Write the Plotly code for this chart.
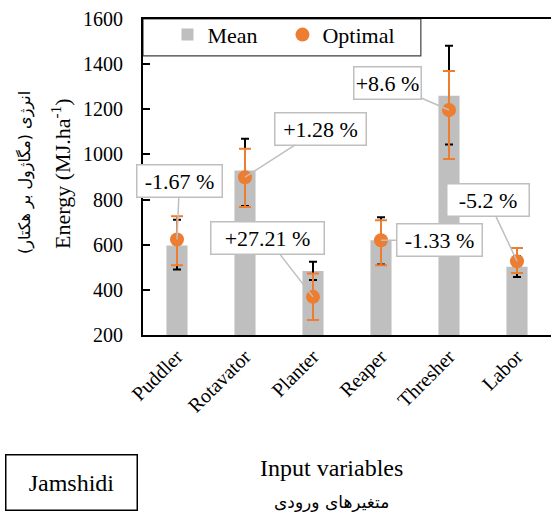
import plotly.graph_objects as go

categories = ["Puddler", "Rotavator", "Planter", "Reaper", "Thresher", "Labor"]
mean_vals = [597, 929, 484, 620, 1260, 502]
mean_err_plus = [114, 140, 40, 102, 221, 48]
mean_err_minus = [107, 158, 40, 108, 216, 45]
opt_vals = [623, 899, 369, 620, 1197, 527]
opt_err_plus = [103, 126, 103, 88, 173, 58]
opt_err_minus = [114, 132, 103, 111, 217, 52]
change_labels = ["-1.67 %", "+1.28 %", "+27.21 %", "-1.33 %", "+8.6 %", "-5.2 %"]
y_ticks = [200, 400, 600, 800, 1000, 1200, 1400, 1600]

SERIF = "Liberation Serif"
FA = "DejaVu Sans"
GRAY = "#BFBFBF"
ORANGE = "#ED7D31"

fig = go.Figure()
fig.add_trace(go.Bar(
    x=categories, y=mean_vals, name="Mean", width=0.31,
    marker=dict(color=GRAY, line=dict(width=0)),
    error_y=dict(type="data", array=mean_err_plus, arrayminus=mean_err_minus,
                 symmetric=False, color="black", thickness=2, width=4),
))
fig.add_trace(go.Scatter(
    x=categories, y=opt_vals, name="Optimal", mode="markers",
    marker=dict(color=ORANGE, size=14),
    error_y=dict(type="data", array=opt_err_plus, arrayminus=opt_err_minus,
                 symmetric=False, color=ORANGE, thickness=2, width=6),
))

# callout layout (pixel offsets and box sizes)
callout_ax = [2.5, 75.5, -45.5, 58.5, -61.5, -29]
callout_ay = [-59, -48.5, -58.5, 0, -26.5, -61.5]
callout_w = [87, 93, 115, 87, 69, 84]

annotations = []
for i, c in enumerate(categories):
    annotations.append(dict(
        x=c, y=opt_vals[i], xref="x", yref="y", text=change_labels[i],
        showarrow=True, ax=callout_ax[i], ay=callout_ay[i],
        arrowhead=0, arrowwidth=1.5, arrowcolor=GRAY,
        bgcolor="white", bordercolor=GRAY, borderwidth=1.5, borderpad=0,
        width=callout_w[i] - 3, height=31,
        font=dict(family=SERIF, size=22, color="black"),
    ))

# axis titles
common = dict(xref="paper", yref="paper", showarrow=False, xanchor="center", yanchor="middle")
annotations += [
    dict(x=-0.201, y=0.513, textangle=-90,
         text="Energy (MJ.ha<sup>-1</sup>)",
         font=dict(family=SERIF, size=22, color="black"), **common),
    dict(x=-0.289, y=0.513, textangle=-90,
         text="انرژی (مگاژول بر هکتار)",
         font=dict(family=FA, size=16, color="black"), **common),
    dict(x=0.463, y=-0.421, text="Input variables",
         font=dict(family=SERIF, size=24, color="black"), **common),
    dict(x=0.463, y=-0.528, text="متغیرهای ورودی",
         font=dict(family=FA, size=17, color="black"), **common),
    dict(x=-0.175, y=-0.468, text="Jamshidi", borderpad=0,
         width=130, height=54, bordercolor="black", borderwidth=1.5,
         font=dict(family=SERIF, size=24, color="black"), **common),
]

fig.update_layout(
    width=551, height=517,
    margin=dict(l=143, r=0, t=19, b=182),
    paper_bgcolor="white", plot_bgcolor="white",
    barmode="overlay",
    font=dict(family=SERIF, size=20, color="black"),
    showlegend=True,
    legend=dict(orientation="h", x=0.06, y=0.95, xanchor="left", yanchor="middle",
                bgcolor="rgba(0,0,0,0)", borderwidth=0,
                font=dict(family=SERIF, size=22, color="black"),
                entrywidth=70, entrywidthmode="pixels", traceorder="normal"),
    shapes=[dict(type="rect", xref="paper", yref="paper",
                 x0=0, x1=0.681, y0=0.883, y1=1,
                 line=dict(color="#404040", width=1.2), fillcolor="white", layer="below")],
    annotations=annotations,
)
fig.update_xaxes(showline=True, linecolor="black", linewidth=2, mirror=True,
                 ticks="", tickangle=-45, showgrid=False,
                 tickfont=dict(family=SERIF, size=20, color="black"),
                 range=[-0.5, 5.5])
fig.update_yaxes(range=[200, 1600], tickvals=y_ticks, showline=True, linecolor="black",
                 linewidth=2, mirror=False, ticks="inside", ticklen=7, tickwidth=1.5,
                 tickcolor="black", showgrid=False, zeroline=False,
                 ticklabelstandoff=14,
                 tickfont=dict(family=SERIF, size=20, color="black"))

fig.write_html("out.html", config={"displayModeBar": False},
               post_script="document.body.style.margin='0';document.body.style.overflow='hidden';")
